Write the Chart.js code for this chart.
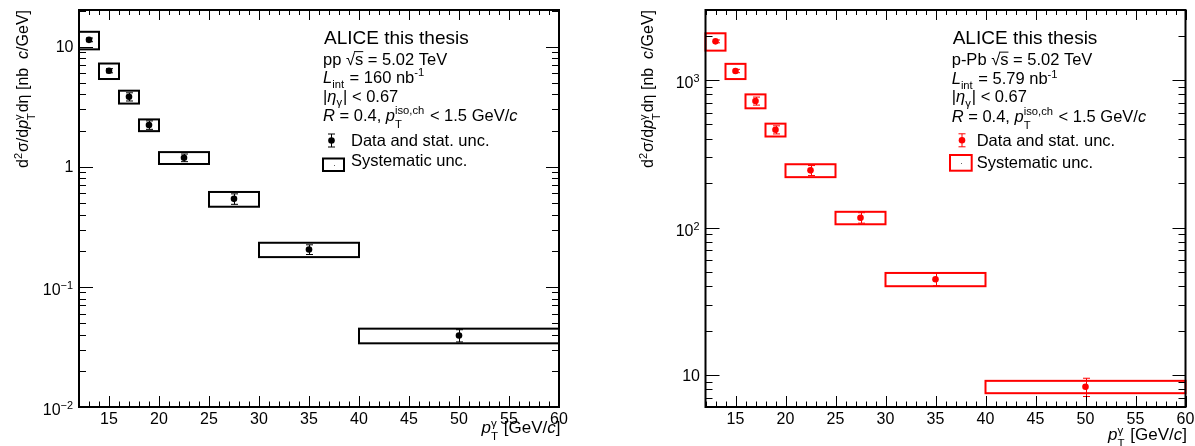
<!DOCTYPE html>
<html><head><meta charset="utf-8">
<script src="https://cdn.jsdelivr.net/npm/chart.js@4.4.0/dist/chart.umd.min.js"></script>
<style>
html,body{margin:0;padding:0;background:#fff;width:1195px;height:446px;overflow:hidden;}
canvas{position:absolute;top:0;}
#c1{left:0;}
#c2{left:600px;}
</style></head><body>
<canvas id="c1" width="600" height="446"></canvas>
<canvas id="c2" width="595" height="446"></canvas>
<script>
// ---- data ----
const binLow    = [12, 14, 16, 18, 20, 25, 30, 40];
const binHigh   = [14, 16, 18, 20, 25, 30, 40, 60];
const binCenter = [13, 15, 17, 19, 22.5, 27.5, 35, 50];

const ppValue = [11.4, 6.31, 3.83, 2.23, 1.19, 0.541, 0.205, 0.0394];
const ppStat  = [0.4, 0.25, 0.3, 0.18, 0.087, 0.054, 0.019, 0.0046];
const ppSys   = [1.9, 0.93, 0.47, 0.25, 0.135, 0.076, 0.028, 0.0055];

const pPbValue = [1828, 1151, 721, 460, 244, 116.5, 44.6, 8.33];
const pPbStat  = [40, 30, 45, 29, 19, 9.5, 4.3, 1.18];
const pPbSys   = [246, 136, 78, 46, 24.5, 11.3, 4.6, 0.8];

const xTickLabels = [15, 20, 25, 30, 35, 40, 45, 50, 55, 60];
const ppYTicks  = [0.01, 0.1, 1, 10];
const ppYTickLabels  = [['10', '\u22122'], ['10', '\u22121'], ['1', ''], ['10', '']];
const pPbYTicks = [10, 100, 1000];
const pPbYTickLabels = [['10', ''], ['10', '2'], ['10', '3']];

const FONT = '"Liberation Sans", Arial, Helvetica, sans-serif';

// ---- rich text helper ----
function setFont(ctx, size, italic){ ctx.font = (italic ? 'italic ' : '') + size + 'px ' + FONT; }
function itemWidth(ctx, it, size){
  const s = size * 0.68;
  if (typeof it === 'string'){ setFont(ctx, size, false); return ctx.measureText(it).width; }
  if (it.i !== undefined){ setFont(ctx, size, true); return ctx.measureText(it.i).width; }
  if (it.sqrt !== undefined){ setFont(ctx, size, false); return ctx.measureText('\u221A' + it.sqrt).width; }
  let w = 0;
  if (it.sup !== undefined){ setFont(ctx, s, !!it.si); w = Math.max(w, ctx.measureText(it.sup).width); }
  if (it.sub !== undefined){ setFont(ctx, s, !!it.bi); w = Math.max(w, ctx.measureText(it.sub).width); }
  return w + 1;
}
function drawRich(ctx, items, x, y, size, align, color){
  let total = 0;
  for (const it of items) total += itemWidth(ctx, it, size);
  if (align === 'right') x -= total; else if (align === 'center') x -= total / 2;
  ctx.fillStyle = color || '#000';
  ctx.textBaseline = 'alphabetic';
  ctx.textAlign = 'left';
  const s = size * 0.68;
  for (const it of items){
    const w = itemWidth(ctx, it, size);
    if (typeof it === 'string'){ setFont(ctx, size, false); ctx.fillText(it, x, y); }
    else if (it.i !== undefined){ setFont(ctx, size, true); ctx.fillText(it.i, x, y); }
    else if (it.sqrt !== undefined){
      setFont(ctx, size, false);
      const rw = ctx.measureText('\u221A').width;
      ctx.fillText('\u221A', x, y);
      ctx.fillText(it.sqrt, x + rw, y);
      ctx.save(); ctx.strokeStyle = color || '#000'; ctx.lineWidth = 1;
      ctx.beginPath(); ctx.moveTo(x + rw - 1, y - size * 0.78); ctx.lineTo(x + w, y - size * 0.78); ctx.stroke(); ctx.restore();
    } else {
      const stacked = it.sup !== undefined && it.sub !== undefined;
      if (it.sup !== undefined){ setFont(ctx, s, !!it.si); ctx.fillText(it.sup, x, y - size * (it.supUp || 0.38)); }
      if (it.sub !== undefined){ setFont(ctx, s, !!it.bi); ctx.fillText(it.sub, x, y + size * (stacked ? 0.42 : 0.28)); }
    }
    x += w;
  }
  return total;
}

// ---- plugin drawing boxes, error bars, axes, texts ----
const hepPlugin = {
  id: 'hep',
  beforeDatasetsDraw(chart){
    const c = chart.options.plugins.hep;
    const {ctx, scales:{x, y}} = chart;
    ctx.save();
    // systematic boxes
    ctx.strokeStyle = c.color; ctx.lineWidth = 2;
    c.values.forEach((v, i) => {
      const x0 = x.getPixelForValue(binLow[i]), x1 = x.getPixelForValue(binHigh[i]);
      const y0 = y.getPixelForValue(v + c.sys[i]), y1 = y.getPixelForValue(v - c.sys[i]);
      ctx.strokeRect(x0, y0, x1 - x0, y1 - y0);
    });
    // stat error bars
    ctx.lineWidth = 1;
    ctx.beginPath();
    c.values.forEach((v, i) => {
      const px = Math.round(x.getPixelForValue(binCenter[i])) + 0.5;
      const yt = y.getPixelForValue(v + c.stat[i]), yb = y.getPixelForValue(v - c.stat[i]);
      ctx.moveTo(px, yt); ctx.lineTo(px, yb);
      ctx.moveTo(px - 3.5, yt); ctx.lineTo(px + 3.5, yt);
      ctx.moveTo(px - 3.5, yb); ctx.lineTo(px + 3.5, yb);
    });
    ctx.stroke();
    ctx.restore();
  },
  afterDraw(chart){
    const c = chart.options.plugins.hep;
    const {ctx, chartArea:a, scales:{x, y}} = chart;
    ctx.save();
    ctx.strokeStyle = '#000'; ctx.lineWidth = 1;
    ctx.beginPath();
    // x ticks (major every 5, minor every 1)
    for (let v = Math.ceil(x.min); v <= x.max; v++){
      const px = Math.round(x.getPixelForValue(v)) + 0.5;
      const major = v % 5 === 0;
      ctx.moveTo(px, a.bottom); ctx.lineTo(px, a.bottom - (major ? 11 : 5.5));
      ctx.moveTo(px, a.top); ctx.lineTo(px, a.top + (major ? 10 : 5));
    }
    // y ticks (log)
    const dmin = Math.floor(Math.log10(y.min)), dmax = Math.ceil(Math.log10(y.max));
    for (let d = dmin; d <= dmax; d++){
      for (let m = 1; m <= 9; m++){
        const v = m * Math.pow(10, d);
        if (v < y.min * 0.999 || v > y.max * 1.001) continue;
        const py = Math.round(y.getPixelForValue(v)) + 0.5;
        const L = m === 1 ? 14 : 7;
        ctx.moveTo(a.left, py); ctx.lineTo(a.left + L, py);
        ctx.moveTo(a.right, py); ctx.lineTo(a.right - (m === 1 ? 13 : 7), py);
      }
    }
    ctx.stroke();
    ctx.lineWidth = 2;
    ctx.strokeRect(a.left, a.top, a.right - a.left, a.bottom - a.top);

    // x tick labels
    ctx.fillStyle = '#000';
    xTickLabels.forEach(v => {
      drawRich(ctx, [String(v)], x.getPixelForValue(v), 424, 16, 'center');
    });
    // y tick labels
    c.yTicks.forEach((v, i) => {
      const [base, exp] = c.yTickLabels[i];
      const py = y.getPixelForValue(v);
      if (exp){
        drawRich(ctx, [base, {sup: exp, supUp: 0.36}], a.left - 5, py + 8.2, 16, 'right');
      } else {
        drawRich(ctx, [base], a.left - 5.5, py + 5.6, 16, 'right');
      }
    });
    // y title
    ctx.save();
    ctx.translate(c.yTitleX, 10);
    ctx.rotate(-Math.PI / 2);
    drawRich(ctx, ['d', {sup: '2'}, '\u03C3/d', {i: 'p'}, {sub: 'T', sup: '\u03B3'}, 'd\u03B7 [nb  ', {i: 'c'}, '/GeV]'], 0, 0, 16, 'right');
    ctx.restore();
    // x title
    drawRich(ctx, [{i: 'p'}, {sub: 'T', sup: '\u03B3'}, ' [GeV/', {i: 'c'}, ']'], a.right + 1.5, c.xTitleY, 17, 'right');

    // legend block
    const L = c.legend;
    drawRich(ctx, ['ALICE this thesis'], L.x + 1, L.y[0], 19, 'left');
    drawRich(ctx, [c.system + ' ', {sqrt: 's'}, ' = 5.02 TeV'], L.x, L.y[1], 16.5, 'left');
    drawRich(ctx, [{i: 'L'}, {sub: 'int'}, ' = ' + c.lumi + ' nb', {sup: '-1', supUp: 0.4}], L.x, L.y[2], 16.5, 'left');
    drawRich(ctx, ['|', {i: '\u03B7'}, {sub: '\u03B3'}, '| < 0.67'], L.x, L.y[3], 16.5, 'left');
    drawRich(ctx, [{i: 'R'}, ' = 0.4, ', {i: 'p'}, {sub: 'T', sup: 'iso,ch', supUp: 0.42}, ' < 1.5 GeV/', {i: 'c'}], L.x, L.y[4], 16.5, 'left');
    drawRich(ctx, ['Data and stat. unc.'], L.textX, L.y[5], 16.5, 'left');
    drawRich(ctx, ['Systematic unc.'], L.textX, L.y[6], 16.5, 'left');
    // legend markers
    ctx.strokeStyle = c.color; ctx.fillStyle = c.color; ctx.lineWidth = 1;
    const mx = L.markX + 0.5, my = L.markY;
    ctx.beginPath();
    ctx.moveTo(mx, my - 6.5); ctx.lineTo(mx, my + 6.5);
    ctx.moveTo(mx - 3.5, my - 6.5); ctx.lineTo(mx + 3.5, my - 6.5);
    ctx.moveTo(mx - 3.5, my + 6.5); ctx.lineTo(mx + 3.5, my + 6.5);
    ctx.stroke();
    ctx.beginPath(); ctx.arc(mx, my, 3.3, 0, Math.PI * 2); ctx.fill();
    ctx.lineWidth = 2;
    ctx.strokeRect(L.box[0], L.box[1], L.box[2], L.box[3]);
    ctx.fillStyle = '#666';
    ctx.fillRect(Math.round(L.box[0] + L.box[2] / 2), Math.round(L.box[1] + L.box[3] / 2), 1, 1);
    ctx.restore();
  }
};

function makePanel(id, values, stat, sys, color, yMin, yMax, pad, extra){
  return new Chart(document.getElementById(id), {
    type: 'scatter',
    data: {
      datasets: [{
        data: binCenter.map((xv, i) => ({x: xv, y: values[i]})),
        backgroundColor: color, borderColor: color, borderWidth: 0,
        pointRadius: 3.3, pointHoverRadius: 3.3
      }]
    },
    options: {
      responsive: false, animation: false, events: [],
      layout: {padding: pad},
      scales: {
        x: {type: 'linear', min: 12, max: 60, display: false, bounds: 'data'},
        y: {type: 'logarithmic', min: yMin, max: yMax, display: false, bounds: 'data'}
      },
      plugins: {
        legend: {display: false}, tooltip: {enabled: false},
        hep: Object.assign({values, stat, sys, color}, extra)
      }
    },
    plugins: [hepPlugin]
  });
}

makePanel('c1', ppValue, ppStat, ppSys, '#000000', 0.01, 20.2,
  {left: 79, right: 41, top: 10, bottom: 39},
  {yTicks: ppYTicks, yTickLabels: ppYTickLabels, yTitleX: 28, xTitleY: 433,
   system: 'pp', lumi: '160',
   legend: {x: 323, y: [44.3, 64.5, 83, 101.7, 121, 145.7, 165.7], textX: 351, markX: 331, markY: 140.5, box: [323, 158.5, 21, 12.5]}});

makePanel('c2', pPbValue, pPbStat, pPbSys, '#ff0000', 6.07, 2983,
  {left: 105.5, right: 9.5, top: 10, bottom: 39},
  {yTicks: pPbYTicks, yTickLabels: pPbYTickLabels, yTitleX: 53, xTitleY: 440,
   system: 'p-Pb', lumi: '5.79',
   legend: {x: 351.7, y: [44.3, 65, 84.3, 102.3, 122.3, 145.7, 167.7], textX: 376.7, markX: 361.5, markY: 140.3, box: [350, 155, 21.7, 15.7]}});
</script>
</body></html>
